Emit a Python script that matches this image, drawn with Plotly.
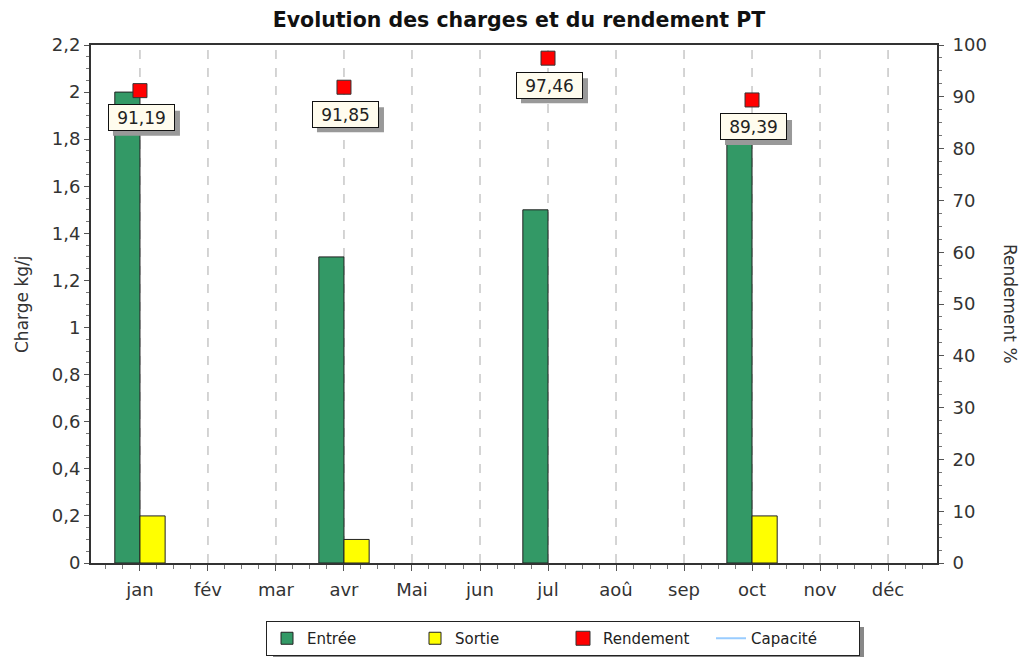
import plotly.graph_objects as go

months = ["jan", "fév", "mar", "avr", "Mai", "jun", "jul", "aoû", "sep", "oct", "nov", "déc"]
entree = [2.0, None, None, 1.3, None, None, 1.5, None, None, 1.85, None, None]
sortie = [0.2, None, None, 0.1, None, None, None, None, None, 0.2, None, None]
rend_months = ["jan", "avr", "jul", "oct"]
rendement = [91.19, 91.85, 97.46, 89.39]

xi = list(range(len(months)))
rx = [months.index(m) for m in rend_months]
FONT = "DejaVu Sans"
TXT = "#333333"

fig = go.Figure()
fig.add_trace(go.Bar(x=xi, y=entree, name="Entrée", marker=dict(color="#339966", line=dict(color="#222222", width=1)), offsetgroup="a"))
fig.add_trace(go.Bar(x=xi, y=sortie, name="Sortie", marker=dict(color="#FFFF00", line=dict(color="#222222", width=1)), offsetgroup="b"))
fig.add_trace(go.Scatter(x=rx, y=rendement, name="Rendement", mode="markers", yaxis="y2",
                         marker=dict(symbol="square", size=14, color="#FF0000", line=dict(color="#333333", width=1))))
fig.add_trace(go.Scatter(x=[None], y=[None], name="Capacité", mode="lines", yaxis="y2",
                         line=dict(color="#99CCFF", width=2)))

# vertical dashed grid at categories
for i in xi:
    fig.add_shape(type="line", xref="x", yref="paper", x0=i, x1=i, y0=0, y1=1,
                  line=dict(color="#AAAAAA", width=1, dash="dash"), layer="below")

for x, v in zip(rx, rendement):
    t = f"{v:.2f}".replace(".", ",")
    # shadow
    fig.add_shape(type="rect", xref="x", yref="y2", xsizemode="pixel", ysizemode="pixel",
                  xanchor=x, yanchor=v, x0=-32 + 5, x1=35 + 5, y0=-40 - 5, y1=-15 - 5,
                  fillcolor="#999999", line=dict(width=0), layer="above")
    fig.add_annotation(x=x, y=v, xref="x", yref="y2", text=t, showarrow=False, yshift=-27, xshift=1.5,
                       width=61, height=21, borderpad=2,
                       font=dict(family=FONT, size=17, color="#222222"), bgcolor="#FFFCEE",
                       bordercolor="#111111", borderwidth=1)

# legend shadow
fig.add_shape(type="rect", xref="paper", yref="paper", x0=(273 - 91) / 846, x1=(864 - 91) / 846,
              y0=(563 - 661) / 518, y1=(563 - 627) / 518, line=dict(width=0), fillcolor="#888888", layer="below")

fig.add_annotation(xref="paper", yref="paper", x=(22 - 91) / 846, xanchor="center", y=0.5, text="Charge kg/j",
                   textangle=-90, showarrow=False, font=dict(family=FONT, size=17, color=TXT))
fig.add_annotation(xref="paper", yref="paper", x=(1010 - 91) / 846, xanchor="center", y=0.5, text="Rendement %",
                   textangle=90, showarrow=False, font=dict(family=FONT, size=17, color=TXT))

fig.update_layout(
    width=1025, height=657,
    margin=dict(l=91, r=88, t=45, b=94),
    paper_bgcolor="white", plot_bgcolor="white",
    separators=", ",
    font=dict(family=FONT, size=14, color=TXT),
    title=dict(text="<b>Evolution des charges et du rendement PT</b>", x=519 / 1025, xanchor="center",
               y=1 - 20 / 657, yanchor="middle", font=dict(family=FONT, size=20.5, color="#111111")),
    barmode="group", bargap=0.26, bargroupgap=0,
    showlegend=True,
    legend=dict(orientation="h", xref="container", yref="container", x=563 / 1025, xanchor="center",
                y=1 / 657, yanchor="bottom",
                bgcolor="white", bordercolor="#222222", borderwidth=1, entrywidth=103,
                font=dict(family=FONT, size=15, color="#222222"), traceorder="normal"),
    xaxis=dict(range=[-0.72, 11.72], tickmode="array", tickvals=xi, ticktext=months,
               showgrid=False, zeroline=False, showline=True, linecolor="#333333", linewidth=2, mirror=True,
               ticks="outside", ticklen=6, tickcolor="#555555", ticklabelstandoff=3, automargin=False,
               minor=dict(ticks="outside", dtick=0.25, tick0=0, ticklen=4, tickcolor="#777777", showgrid=False),
               tickfont=dict(family=FONT, size=18, color=TXT)),
    yaxis=dict(range=[0, 2.2], dtick=0.2, showgrid=False, zeroline=False, showline=True, linecolor="#333333",
               linewidth=2, ticks="outside", ticklen=5, tickcolor="#555555", automargin=False,
               minor=dict(ticks="outside", dtick=0.05, ticklen=3, tickcolor="#777777", showgrid=False),
               tickfont=dict(family=FONT, size=18, color=TXT)),
    yaxis2=dict(range=[0, 100], dtick=10, overlaying="y", side="right", showgrid=False, zeroline=False,
                showline=True, linecolor="#333333", linewidth=2, ticks="outside", ticklen=5, tickcolor="#555555",
                ticklabelstandoff=5, automargin=False,
                minor=dict(ticks="outside", dtick=2.5, ticklen=3, tickcolor="#777777", showgrid=False),
                tickfont=dict(family=FONT, size=18, color=TXT)),
)

fig.write_html("out.html", config={"displayModeBar": False},
               post_script="document.body.style.margin='0px';")
